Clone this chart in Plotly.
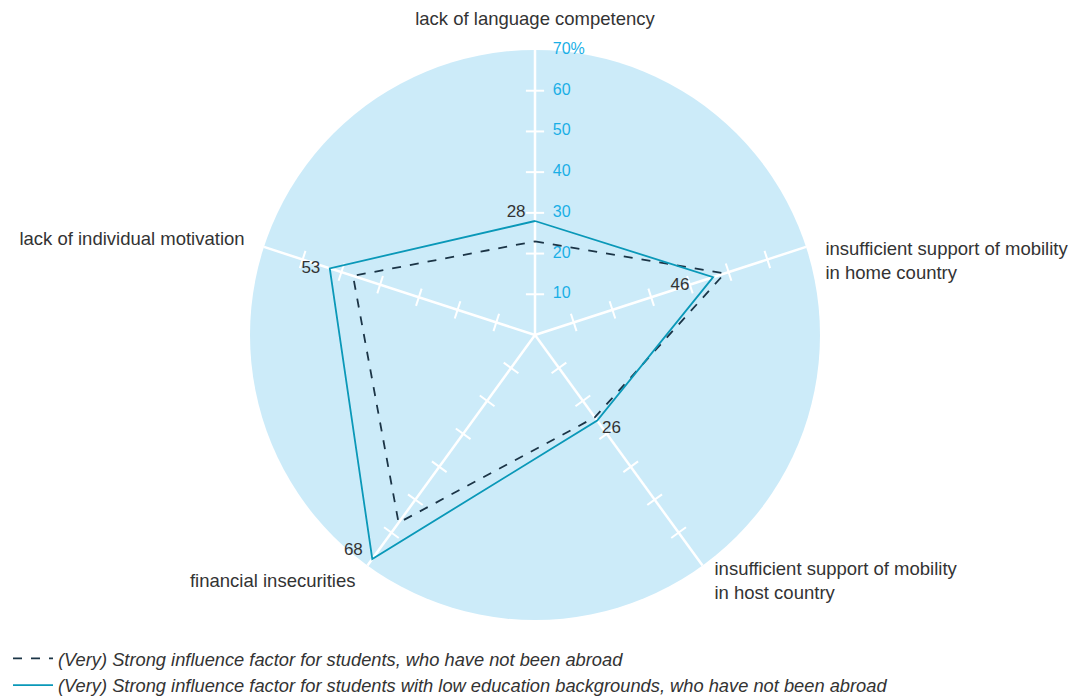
import plotly.graph_objects as go

categories = [
    "lack of language competency",
    "insufficient support of mobility<br>in home country",
    "insufficient support of mobility<br>in host country",
    "financial insecurities",
    "lack of individual motivation",
]
not_abroad = [23, 49, 25, 57, 47]
low_edu = [28, 46, 26, 68, 53]
label_positions = ["top left", "bottom left", "bottom right", "top left", "middle left"]
label_texts = ["28\u00a0\u00a0", "46\u00a0\u00a0\u00a0\u00a0\u00a0", "\u00a026", "68\u00a0\u00a0", "53\u00a0\u00a0"]
category_positions = ["top center", "bottom right", "middle right", "middle left", "middle left"]
radial_ticks = [10, 20, 30, 40, 50, 60, 70]
radial_ticktext = ["10", "20", "30", "40", "50", "60", "70%"]
spoke_angles = [0, 72, 144, 216, 288]
axis_max = 70          # value at the edge of the blue disk
outer_max = 76         # extra room so the category labels can sit outside the disk
category_label_r = 75

series1_name = "(Very) Strong influence factor for students, who have not been abroad"
series2_name = "(Very) Strong influence factor for students with low education backgrounds, who have not been abroad"

BG = "#CCEBF9"
NAVY = "#1B3446"
TEAL = "#0A98B8"
TICKBLUE = "#1AAFE6"
TXT = "#333333"
FONT = "Liberation Sans, Arial, sans-serif"

W, H = 1089, 696
CX, CY = 527, 327      # disk centre in figure pixels
R_DISK = 285           # disk radius in pixels
R_OUT = R_DISK * outer_max / axis_max

fig = go.Figure()

# spokes
spoke_r, spoke_t = [], []
for cat in categories:
    spoke_r += [0, axis_max, None]
    spoke_t += [cat, cat, None]
fig.add_trace(go.Scatterpolar(
    r=spoke_r, theta=spoke_t, mode="lines",
    line=dict(color="white", width=2.5),
    showlegend=False, hoverinfo="skip", connectgaps=False,
))

# tick marks across each spoke
tick_r, tick_theta, tick_ang = [], [], []
for cat, ang in zip(categories, spoke_angles):
    for v in radial_ticks[:-1]:
        tick_r.append(v)
        tick_theta.append(cat)
        tick_ang.append(ang)
fig.add_trace(go.Scatterpolar(
    r=tick_r, theta=tick_theta, mode="markers",
    marker=dict(symbol="line-ew", size=13, angle=tick_ang,
                line=dict(color="white", width=2)),
    showlegend=False, hoverinfo="skip",
))

# radial tick labels along the top spoke
fig.add_trace(go.Scatterpolar(
    r=radial_ticks, theta=[categories[0]] * len(radial_ticks), mode="text",
    text=["\u00a0\u00a0\u00a0\u00a0" + t for t in radial_ticktext],
    textposition="middle right",
    textfont=dict(family=FONT, size=16, color=TICKBLUE),
    showlegend=False, hoverinfo="skip", cliponaxis=False,
))

# category labels just outside the disk
fig.add_trace(go.Scatterpolar(
    r=[category_label_r] * len(categories), theta=categories, mode="text",
    text=categories, textposition=category_positions,
    textfont=dict(family=FONT, size=18.5, color=TXT),
    cliponaxis=False, showlegend=False, hoverinfo="skip",
))

fig.add_trace(go.Scatterpolar(
    r=not_abroad + not_abroad[:1], theta=categories + categories[:1],
    mode="lines", name=series1_name,
    line=dict(color=NAVY, width=1.8, dash="dash"),
))
fig.add_trace(go.Scatterpolar(
    r=low_edu + low_edu[:1], theta=categories + categories[:1],
    mode="lines+text", name=series2_name,
    line=dict(color=TEAL, width=1.8),
    text=label_texts + [""],
    textposition=label_positions + ["top left"],
    textfont=dict(family=FONT, size=17, color=TXT),
    cliponaxis=False,
))

fig.update_layout(
    width=W, height=H,
    paper_bgcolor="white",
    margin=dict(l=0, r=0, t=0, b=0),
    font=dict(family=FONT, size=18, color=TXT),
    shapes=[dict(
        type="circle", xref="paper", yref="paper", layer="below",
        x0=(CX - R_DISK) / W, x1=(CX + R_DISK) / W,
        y0=1 - (CY + R_DISK) / H, y1=1 - (CY - R_DISK) / H,
        fillcolor=BG, line=dict(width=0),
    )],
    polar=dict(
        domain=dict(x=[(CX - R_OUT) / W, (CX + R_OUT) / W],
                    y=[1 - (CY + R_OUT) / H, 1 - (CY - R_OUT) / H]),
        bgcolor="rgba(0,0,0,0)",
        angularaxis=dict(
            direction="clockwise", rotation=90,
            showline=False, showgrid=False,
            ticks="", showticklabels=False,
        ),
        radialaxis=dict(
            range=[0, outer_max], angle=90,
            showticklabels=False, showgrid=False, showline=False,
            ticks="",
        ),
    ),
    legend=dict(
        x=0.0, y=0.0, xanchor="left", yanchor="bottom",
        font=dict(family=FONT, size=18.3, color=TXT, style="italic"),
        tracegroupgap=0, itemwidth=40,
        bgcolor="rgba(0,0,0,0)",
    ),
)

fig.write_html("out.html")
